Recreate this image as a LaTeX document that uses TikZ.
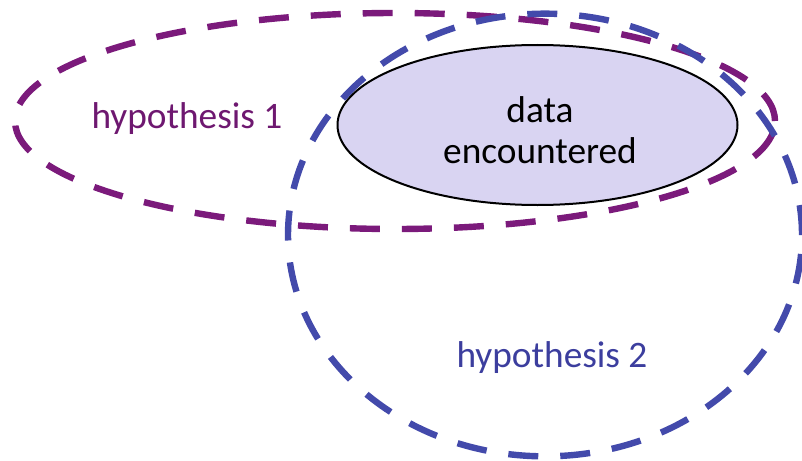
\documentclass[tikz,border=0pt]{standalone}
\usepackage{fontspec}
\setmainfont{Carlito}
\usetikzlibrary{shapes.geometric}
\definecolor{hypA}{RGB}{123,26,123}
\definecolor{hypAtext}{RGB}{110,24,112}
\definecolor{hypB}{RGB}{67,74,171}
\definecolor{hypBtext}{RGB}{60,62,158}
\definecolor{datafill}{RGB}{217,212,242}
\tikzset{
  hypring/.style={ellipse, draw, inner sep=0pt, line width=4.8pt, dash pattern=on 22.5pt off 16.5pt},
  hyplabel/.style={font=\fontsize{28}{31}\selectfont, anchor=base, inner sep=0pt},
  databox/.style={ellipse, draw=black, fill=datafill, line width=1.5pt, inner sep=0pt},
  datatext/.style={align=center, inner sep=0pt, font=\fontsize{28}{30.75}\selectfont}
}
\begin{document}
\begin{tikzpicture}[x=0.75pt, y=-0.75pt]
\useasboundingbox (0,0) rectangle (802,460);
\node[databox, minimum width=300pt, minimum height=120pt] (data) at (537.5,125) {};
\node[datatext] (dlabel) at (540,130) {data\\encountered};
\node[hypring, draw=hypA, minimum width=570pt, minimum height=162pt] (h1) at (395,121) {};
\node[hypring, draw=hypB, minimum width=385.5pt, minimum height=332pt] (h2) at (545,235) {};
\node[hyplabel, text=hypAtext] (l1) at (187,128) {hypothesis 1};
\node[hyplabel, text=hypBtext] (l2) at (552,367) {hypothesis 2};
\end{tikzpicture}
\end{document}
